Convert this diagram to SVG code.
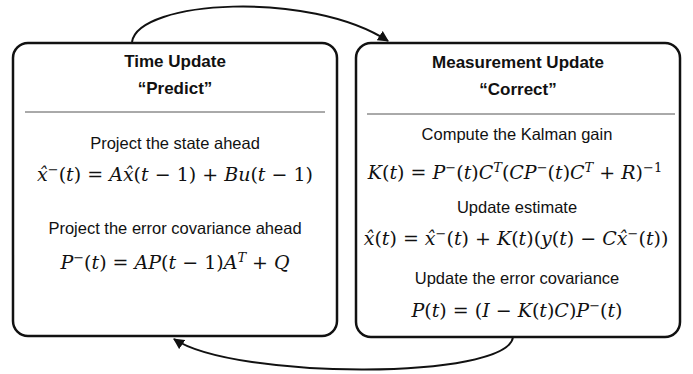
<svg xmlns="http://www.w3.org/2000/svg" width="693" height="374" viewBox="0 0 693 374">
<style>
.box{fill:#fff;stroke:#111;stroke-width:2.5}
.sep{stroke:#555;stroke-width:1}
.h{font-family:"Liberation Sans",Arial,sans-serif;font-size:17px;font-weight:bold;fill:#111;text-anchor:middle}
.t{font-family:"Liberation Sans",Arial,sans-serif;font-size:16.5px;fill:#111;text-anchor:middle}
.m{font-family:"DejaVu Serif",serif;font-size:19px;fill:#111;text-anchor:middle}
.v{font-style:italic}
.s{font-size:13px}
.c{fill:none;stroke:#111;stroke-width:2}
</style>
<defs>
<marker id="ah" viewBox="0 0 10 10" refX="9" refY="5" markerWidth="5.5" markerHeight="5.5" orient="auto" markerUnits="strokeWidth">
<path d="M0,0 L10,5 L0,10 z" fill="#111"/>
</marker>
</defs>
<rect width="693" height="374" fill="#fff"/>
<g id="connectors">
<path class="c" d="M132,42 C138,0 310,-10 388,41" marker-end="url(#ah)"/>
<path class="c" d="M513,337 C508,380 235,380 174,339" marker-end="url(#ah)"/>
</g>
<g id="time-update">
<rect class="box" x="13" y="43" width="324" height="293" rx="15"/>
<text class="h" x="175" y="67">Time Update</text>
<text class="h" x="175" y="94">“Predict”</text>
<line class="sep" x1="25" y1="112" x2="325" y2="112"/>
<text class="t" x="175" y="149">Project the state ahead</text>
<text class="m" x="175" y="181"><tspan class="v">x̂</tspan><tspan class="s" baseline-shift="super">−</tspan>(<tspan class="v">t</tspan>) =  <tspan class="v">A</tspan><tspan class="v">x̂</tspan>(<tspan class="v">t</tspan> − 1) +  <tspan class="v">Bu</tspan>(<tspan class="v">t</tspan> − 1)</text>
<text class="t" x="175" y="234">Project the error covariance ahead</text>
<text class="m" x="175" y="269"><tspan class="v">P</tspan><tspan class="s" baseline-shift="super">−</tspan>(<tspan class="v">t</tspan>) =  <tspan class="v">AP</tspan>(<tspan class="v">t</tspan> − 1)<tspan class="v">A</tspan><tspan class="v s" baseline-shift="super">T</tspan> + <tspan class="v">Q</tspan></text>
</g>
<g id="measurement-update">
<rect class="box" x="356" y="43" width="324" height="294" rx="15"/>
<text class="h" x="518" y="68">Measurement Update</text>
<text class="h" x="518" y="95">“Correct”</text>
<line class="sep" x1="367" y1="114" x2="675" y2="114"/>
<text class="t" x="517" y="140">Compute the Kalman gain</text>
<text class="m" x="515" y="179"><tspan class="v">K</tspan>(<tspan class="v">t</tspan>) = <tspan class="v">P</tspan><tspan class="s" baseline-shift="super">−</tspan>(<tspan class="v">t</tspan>)<tspan class="v">C</tspan><tspan class="v s" baseline-shift="super">T</tspan>(<tspan class="v">CP</tspan><tspan class="s" baseline-shift="super">−</tspan>(<tspan class="v">t</tspan>)<tspan class="v">C</tspan><tspan class="v s" baseline-shift="super">T</tspan> + <tspan class="v">R</tspan>)<tspan class="s" baseline-shift="super">−1</tspan></text>
<text class="t" x="517" y="213">Update estimate</text>
<text class="m" x="516" y="245"><tspan class="v">x̂</tspan>(<tspan class="v">t</tspan>) = <tspan class="v">x̂</tspan><tspan class="s" baseline-shift="super">−</tspan>(<tspan class="v">t</tspan>) + <tspan class="v">K</tspan>(<tspan class="v">t</tspan>)(<tspan class="v">y</tspan>(<tspan class="v">t</tspan>) − <tspan class="v">C</tspan><tspan class="v">x̂</tspan><tspan class="s" baseline-shift="super">−</tspan>(<tspan class="v">t</tspan>))</text>
<text class="t" x="517" y="284">Update the error covariance</text>
<text class="m" x="517" y="317"><tspan class="v">P</tspan>(<tspan class="v">t</tspan>) = (<tspan class="v">I</tspan> − <tspan class="v">K</tspan>(<tspan class="v">t</tspan>)<tspan class="v">C</tspan>)<tspan class="v">P</tspan><tspan class="s" baseline-shift="super">−</tspan>(<tspan class="v">t</tspan>)</text>
</g>
</svg>
